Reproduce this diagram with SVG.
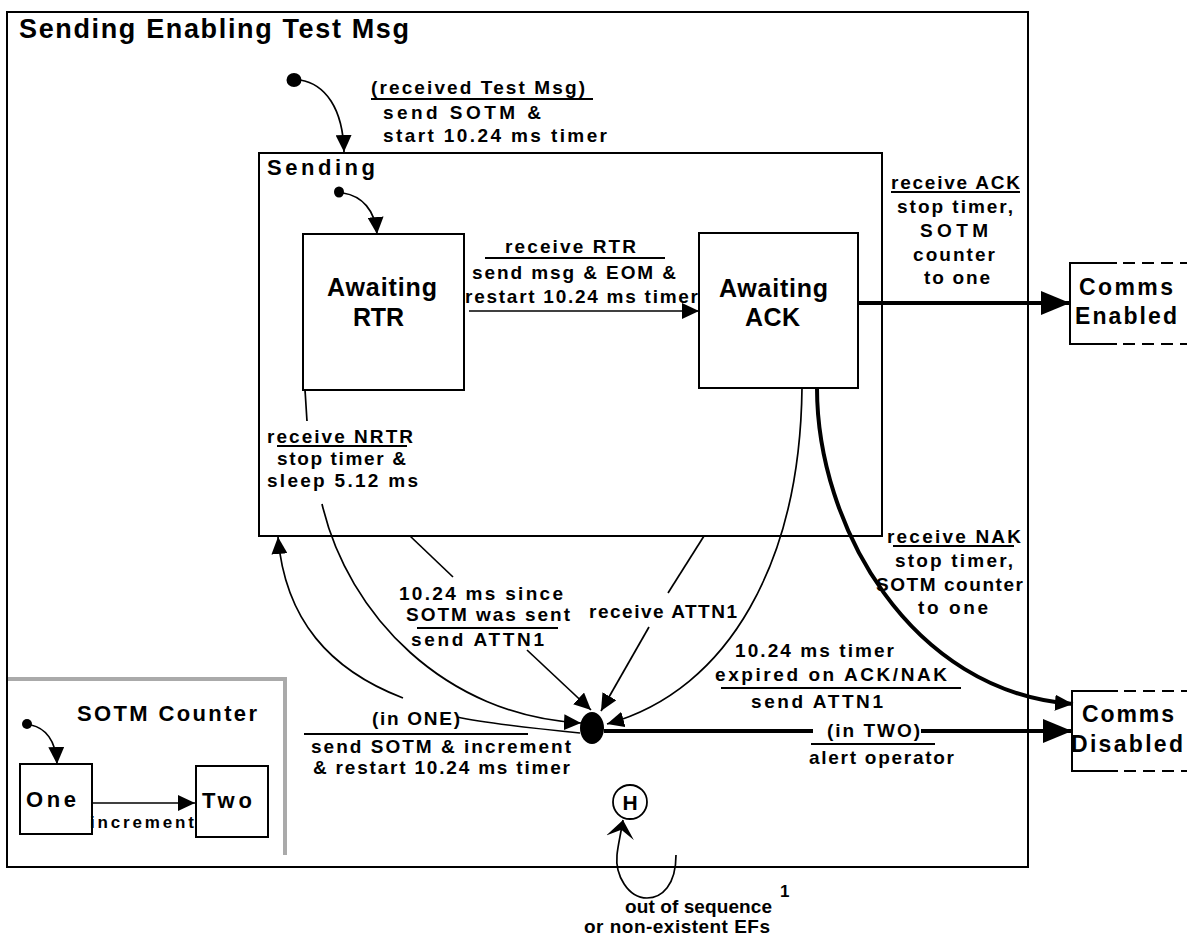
<svg xmlns="http://www.w3.org/2000/svg" width="1187" height="938" viewBox="0 0 1187 938">
  <style>
    .t { font-family: "Liberation Sans", Arial, Helvetica, sans-serif; font-weight: bold; fill: #000; font-size: 19px; }
    .title { font-size: 27px; }
    .big { font-size: 25px; }
    .comms { font-size: 23px; }
    .mid { font-size: 22px; }
    .h { font-size: 21px; }
    .sm { font-size: 17px; }
    .sup { font-size: 17px; }
    .box { fill: #fff; stroke: #000; stroke-width: 2; }
    .frame { fill: none; stroke: #000; stroke-width: 2; }
    .thin { fill: none; stroke: #000; stroke-width: 1.7; }
    .thick { fill: none; stroke: #000; stroke-width: 4; }
    .ul { stroke: #000; stroke-width: 1.8; }
    .dash { fill: none; stroke: #000; stroke-width: 2; stroke-dasharray: 12 7; }
    .gray { fill: none; stroke: #aaa; stroke-width: 4; }
  </style>
  <defs>
    <marker id="ah" markerUnits="userSpaceOnUse" markerWidth="17" markerHeight="16" refX="17" refY="8" orient="auto">
      <path d="M0,0 L17,8 L0,16 z" fill="#000"/>
    </marker>
    <marker id="ahm" markerUnits="userSpaceOnUse" markerWidth="18" markerHeight="16" refX="18" refY="8" orient="auto">
      <path d="M0,0 L18,8 L0,16 z" fill="#000"/>
    </marker>
    <marker id="ahb" markerUnits="userSpaceOnUse" markerWidth="29" markerHeight="24" refX="29" refY="12" orient="auto">
      <path d="M0,0 L29,12 L0,24 z" fill="#000"/>
    </marker>
    <marker id="barb" markerUnits="userSpaceOnUse" markerWidth="18" markerHeight="28" refX="18" refY="14" orient="auto">
      <path d="M0,0 L18,14 L0,28 L8,14 z" fill="#000"/>
    </marker>
  </defs>

  <!-- outer composite state -->
  <g id="sending-enabling-test-msg">
    <rect class="frame" x="7" y="12" width="1021" height="855"/>
    <text class="t title" x="19" y="38" textLength="390">Sending Enabling Test Msg</text>
  </g>

  <!-- nested composite state -->
  <g id="sending">
    <rect class="frame" x="259" y="153" width="623" height="383"/>
    <text class="t mid" x="267" y="175" textLength="108">Sending</text>
  </g>

  <g id="awaiting-rtr">
    <rect class="box" x="303" y="234" width="161" height="156"/>
    <text class="t big" x="327" y="296" textLength="110">Awaiting</text>
    <text class="t big" x="353" y="326" textLength="51">RTR</text>
  </g>

  <g id="awaiting-ack">
    <rect class="box" x="699" y="233" width="159" height="155"/>
    <text class="t big" x="719" y="297" textLength="109">Awaiting</text>
    <text class="t big" x="745" y="326" textLength="55">ACK</text>
  </g>

  <g id="comms-enabled">
    <path class="frame" d="M1117,263 L1070,263 L1070,344 L1117,344"/>
    <path class="dash" d="M1123,263 L1187,263 M1123,344 L1187,344"/>
    <text class="t comms" x="1079" y="295" textLength="94">Comms</text>
    <text class="t comms" x="1075" y="324" textLength="102">Enabled</text>
  </g>

  <g id="comms-disabled">
    <path class="frame" d="M1118,691 L1072,691 L1072,771 L1118,771"/>
    <path class="dash" d="M1124,691 L1187,691 M1124,771 L1187,771"/>
    <text class="t comms" x="1082" y="722" textLength="92">Comms</text>
    <text class="t comms" x="1071" y="752" textLength="112">Disabled</text>
  </g>

  <!-- SOTM counter region -->
  <g id="sotm-counter">
    <path class="gray" d="M8,679 L285,679 L285,855"/>
    <text class="t mid" x="77" y="721" textLength="180">SOTM Counter</text>
    <ellipse cx="27" cy="724" rx="5" ry="5" fill="#000"/>
  </g>
  <g id="one">
    <rect class="box" x="20" y="764" width="72" height="70"/>
    <text class="t mid" x="26" y="807" textLength="50">One</text>
  </g>
  <g id="two">
    <rect class="box" x="196" y="766" width="72" height="71"/>
    <text class="t mid" x="202" y="808" textLength="50">Two</text>
  </g>

  <!-- pseudo-states -->
  <g id="initial-outer">
    <ellipse cx="294" cy="80" rx="7.5" ry="7" fill="#000"/>
  </g>
  <g id="initial-inner">
    <ellipse cx="339" cy="192" rx="5" ry="5.5" fill="#000"/>
  </g>
  <g id="junction">
    <ellipse cx="592" cy="728" rx="12" ry="16" fill="#000"/>
  </g>
  <g id="history">
    <circle cx="630" cy="802" r="17" fill="#fff" stroke="#000" stroke-width="1.8"/>
    <text class="t h" x="630" y="810" text-anchor="middle">H</text>
  </g>

  <!-- transitions -->
  <g id="connectors">
    <path class="thin" d="M300,80 C325,84 343,108 344,152" marker-end="url(#ah)"/>
    <path class="thin" d="M343,193 C362,196 375,210 377,234" marker-end="url(#ah)"/>
    <path class="thin" d="M469,311 L699,311" marker-end="url(#ah)"/>
    <path class="thick" d="M858,303 L1070,303" marker-end="url(#ahb)"/>

    <path class="thin" d="M305,390 L307,421"/>
    <path class="thin" d="M322,504 C348,615 445,716 581,723" marker-end="url(#ah)"/>

    <path class="thin" d="M410,536 L453,577"/>
    <path class="thin" d="M527,650 L591,710" marker-end="url(#ah)"/>

    <path class="thin" d="M704,536 L668,593"/>
    <path class="thin" d="M649,627 L601,711" marker-end="url(#ah)"/>

    <path class="thin" d="M802,388 C800,560 730,690 607,724" marker-end="url(#ah)"/>
    <path class="thick" d="M817,388 C817,525 910,692 1073,704" marker-end="url(#ahm)"/>

    <path class="thick" d="M604,731 L813,731"/>
    <path class="thick" d="M921,731 L1072,731" marker-end="url(#ahb)"/>

    <path class="thin" d="M580,733 C520,727 480,722 457,717"/>
    <path class="thin" d="M403,698 C330,670 285,620 278,537" marker-end="url(#ah)"/>

    <path class="thin" d="M676,855 C676,885 662,898 647,898 C628,898 615,875 617,855 C618,845 620,838 623,820" marker-end="url(#barb)"/>

    <path class="thin" d="M31,725 C45,728 56,740 57,764" marker-end="url(#ah)"/>
    <path class="thin" d="M92,803 L195,803" marker-end="url(#ah)"/>
  </g>

  <!-- transition labels -->
  <g id="labels">
    <text class="t" x="371" y="94" textLength="214">(received Test Msg)</text>
    <line class="ul" x1="371" y1="99" x2="593" y2="99"/>
    <text class="t" x="383" y="119" textLength="158">send SOTM &amp;</text>
    <text class="t" x="383" y="142" textLength="224">start 10.24 ms timer</text>

    <text class="t" x="505" y="253" textLength="131">receive RTR</text>
    <line class="ul" x1="485" y1="258" x2="665" y2="258"/>
    <text class="t" x="472" y="279" textLength="204">send msg &amp; EOM &amp;</text>
    <text class="t" x="465" y="303" textLength="233">restart 10.24 ms timer</text>

    <text class="t" x="891" y="189" textLength="129">receive ACK</text>
    <line class="ul" x1="891" y1="192" x2="1020" y2="192"/>
    <text class="t" x="897" y="213" textLength="116">stop timer,</text>
    <text class="t" x="920" y="237" textLength="68">SOTM</text>
    <text class="t" x="913" y="261" textLength="82">counter</text>
    <text class="t" x="924" y="284" textLength="66">to one</text>

    <text class="t" x="267" y="443" textLength="146">receive NRTR</text>
    <line class="ul" x1="277" y1="446" x2="407" y2="446"/>
    <text class="t" x="277" y="465" textLength="129">stop timer &amp;</text>
    <text class="t" x="267" y="487" textLength="151">sleep 5.12 ms</text>

    <text class="t" x="399" y="600" textLength="164">10.24 ms since</text>
    <text class="t" x="406" y="621" textLength="164">SOTM was sent</text>
    <line class="ul" x1="417" y1="628" x2="558" y2="628"/>
    <text class="t" x="411" y="646" textLength="133">send ATTN1</text>

    <text class="t" x="589" y="618" textLength="148">receive ATTN1</text>

    <text class="t" x="887" y="543" textLength="134">receive NAK</text>
    <line class="ul" x1="893" y1="546" x2="1014" y2="546"/>
    <text class="t" x="895" y="567" textLength="118">stop timer,</text>
    <text class="t" x="876" y="591" textLength="147">SOTM counter</text>
    <text class="t" x="918" y="614" textLength="70">to one</text>

    <text class="t" x="735" y="657" textLength="159">10.24 ms timer</text>
    <text class="t" x="715" y="681" textLength="232">expired  on ACK/NAK</text>
    <line class="ul" x1="721" y1="688" x2="961" y2="688"/>
    <text class="t" x="751" y="708" textLength="132">send ATTN1</text>

    <text class="t" x="827" y="737" textLength="93">(in TWO)</text>
    <line class="ul" x1="811" y1="744" x2="935" y2="744"/>
    <text class="t" x="809" y="764" textLength="145">alert operator</text>

    <text class="t" x="372" y="725" textLength="88">(in ONE)</text>
    <line class="ul" x1="304" y1="734" x2="528" y2="734"/>
    <text class="t" x="311" y="753" textLength="260">send SOTM &amp; increment</text>
    <text class="t" x="313" y="774" textLength="257">&amp; restart 10.24 ms timer</text>

    <text class="t sm" x="90" y="828" textLength="104">increment</text>

    <text class="t" x="625" y="913" textLength="147">out of sequence</text>
    <text class="t sup" x="780" y="897">1</text>
    <text class="t" x="584" y="933" textLength="186">or  non-existent EFs</text>
  </g>
</svg>
